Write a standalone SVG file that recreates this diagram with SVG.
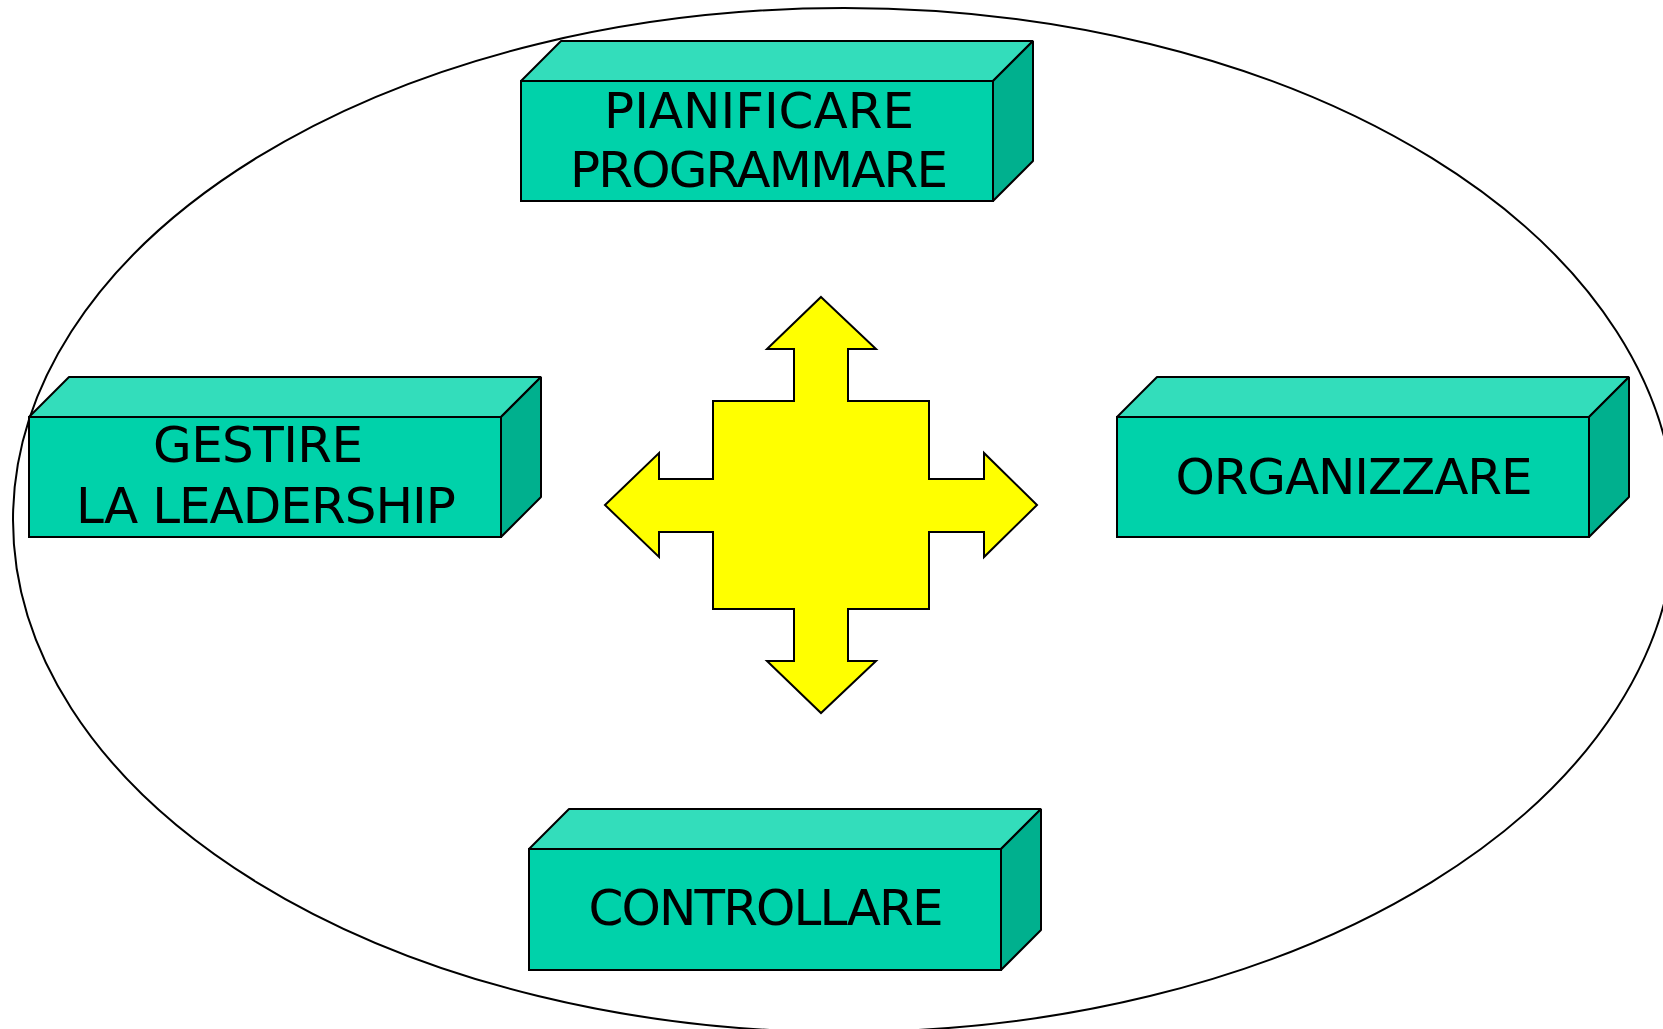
<svg xmlns="http://www.w3.org/2000/svg" width="1663" height="1029" viewBox="0 0 1663 1029">
  <style>
    .front { fill: #00D2AA; stroke: #000; stroke-width: 2; }
    .top { fill: #33DDBB; stroke: #000; stroke-width: 2; stroke-linejoin: bevel; }
    .side { fill: #00B08E; stroke: #000; stroke-width: 2; stroke-linejoin: bevel; }
    .label { font-family: "DejaVu Sans", Verdana, sans-serif; font-size: 50px; fill: #000; text-anchor: middle; }
    .frame { fill: none; stroke: #000; stroke-width: 2; }
    .cross { fill: #FFFF00; stroke: #000; stroke-width: 2; stroke-miterlimit: 3; }
  </style>
  <rect x="0" y="0" width="1663" height="1029" fill="#fff"/>

  <!-- outer ellipse framing the cycle -->
  <ellipse class="frame" cx="844" cy="520" rx="831" ry="512"/>

  <!-- central four-way arrow -->
  <g id="connectors">
    <polygon class="cross" points="821,297 876,349 848,349 848,401 929,401 929,479 984,479 984,453 1037,505 984,557 984,532 929,532 929,609 848,609 848,661 876,661 821,713 767,661 794,661 794,609 713,609 713,532 659,532 659,557 605,505 659,453 659,479 713,479 713,401 794,401 794,349 767,349"/>
  </g>

  <!-- top box -->
  <g id="node-pianificare">
    <polygon class="top" points="521,81 561,41 1033,41 993,81"/>
    <polygon class="side" points="993,81 1033,41 1033,161 993,201"/>
    <rect class="front" x="521" y="81" width="472" height="120"/>
    <text class="label" x="759" y="128" textLength="310">PIANIFICARE</text>
    <text class="label" x="759" y="187" textLength="378">PROGRAMMARE</text>
  </g>

  <!-- left box -->
  <g id="node-gestire">
    <polygon class="top" points="29,417 69,377 541,377 501,417"/>
    <polygon class="side" points="501,417 541,377 541,497 501,537"/>
    <rect class="front" x="29" y="417" width="472" height="120"/>
    <text class="label" x="258" y="462" textLength="210">GESTIRE</text>
    <text class="label" x="266" y="523" textLength="380">LA LEADERSHIP</text>
  </g>

  <!-- right box -->
  <g id="node-organizzare">
    <polygon class="top" points="1117,417 1157,377 1629,377 1589,417"/>
    <polygon class="side" points="1589,417 1629,377 1629,497 1589,537"/>
    <rect class="front" x="1117" y="417" width="472" height="120"/>
    <text class="label" x="1354" y="494" textLength="357">ORGANIZZARE</text>
  </g>

  <!-- bottom box -->
  <g id="node-controllare">
    <polygon class="top" points="529,849 569,809 1041,809 1001,849"/>
    <polygon class="side" points="1001,849 1041,809 1041,930 1001,970"/>
    <rect class="front" x="529" y="849" width="472" height="121"/>
    <text class="label" x="766" y="925" textLength="355">CONTROLLARE</text>
  </g>
</svg>
